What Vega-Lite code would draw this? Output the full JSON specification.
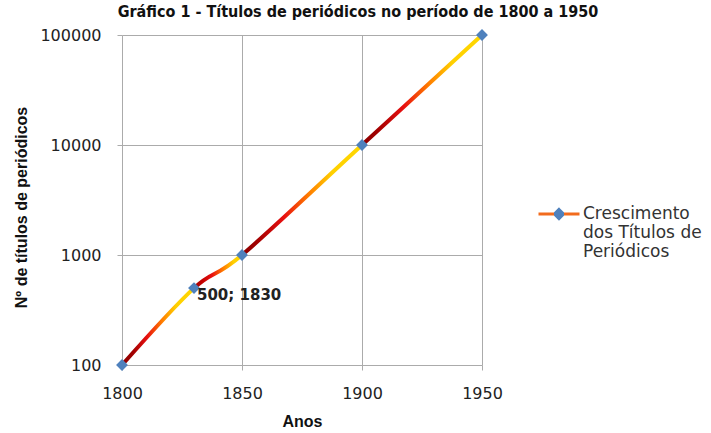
{
  "$schema": "https://vega.github.io/schema/vega-lite/v6.json",
  "width": 360,
  "height": 330,
  "padding": {"left": 13, "top": 4, "right": 0, "bottom": 0},
  "background": "white",
  "title": {
    "text": "Gráfico 1 - Títulos de periódicos no período de 1800 a 1950",
    "font": "DejaVu Sans Condensed, sans-serif",
    "fontSize": 16,
    "fontWeight": "bold",
    "color": "#111111",
    "anchor": "middle",
    "frame": "bounds",
    "offset": 7
  },
  "data": {
    "values": [
      {"year": 1800, "titles": 100, "serie": "Crescimento dos Títulos de Periódicos"},
      {"year": 1830, "titles": 500, "serie": "Crescimento dos Títulos de Periódicos", "label": "500; 1830"},
      {"year": 1850, "titles": 1000, "serie": "Crescimento dos Títulos de Periódicos"},
      {"year": 1900, "titles": 10000, "serie": "Crescimento dos Títulos de Periódicos"},
      {"year": 1950, "titles": 100000, "serie": "Crescimento dos Títulos de Periódicos"}
    ]
  },
  "encoding": {
    "x": {
      "field": "year",
      "type": "quantitative",
      "scale": {"domain": [1800, 1950], "nice": false, "zero": false},
      "axis": {
        "title": "Anos",
        "values": [1800, 1850, 1900, 1950],
        "format": "d",
        "labelFlush": false,
        "labelPadding": 15,
        "titlePadding": 12
      }
    },
    "y": {
      "field": "titles",
      "type": "quantitative",
      "scale": {"type": "log", "domain": [100, 100000], "nice": false},
      "axis": {
        "title": "Nº de títulos de periódicos",
        "values": [100, 1000, 10000, 100000],
        "format": "d",
        "labelFlush": false,
        "labelPadding": 16,
        "titlePadding": 10,
        "titleY": 172
      }
    }
  },
  "layer": [
    {
      "mark": {
        "type": "line",
        "interpolate": "cardinal",
        "strokeWidth": 4,
        "color": {
          "gradient": "linear",
          "x1": 0, "y1": 0, "x2": 1, "y2": 0,
          "stops": [
            {"offset": 0, "color": "#8B0000"},
            {"offset": 0.03, "color": "#A00000"},
            {"offset": 0.07, "color": "#E81010"},
            {"offset": 0.11, "color": "#FF7A00"},
            {"offset": 0.15, "color": "#FFD000"},
            {"offset": 0.2, "color": "#FFD700"},
            {"offset": 0.2, "color": "#A00000"},
            {"offset": 0.22, "color": "#C00000"},
            {"offset": 0.25, "color": "#E81010"},
            {"offset": 0.28, "color": "#FF7A00"},
            {"offset": 0.31, "color": "#FFD000"},
            {"offset": 0.3333, "color": "#FFD700"},
            {"offset": 0.3333, "color": "#8B0000"},
            {"offset": 0.373, "color": "#A00000"},
            {"offset": 0.45, "color": "#E81010"},
            {"offset": 0.517, "color": "#FF7A00"},
            {"offset": 0.583, "color": "#FFD000"},
            {"offset": 0.6667, "color": "#FFD700"},
            {"offset": 0.6667, "color": "#8B0000"},
            {"offset": 0.707, "color": "#A00000"},
            {"offset": 0.783, "color": "#E81010"},
            {"offset": 0.85, "color": "#FF7A00"},
            {"offset": 0.917, "color": "#FFD000"},
            {"offset": 1, "color": "#FFD700"}
          ]
        }
      }
    },
    {
      "mark": {"type": "point", "shape": "diamond", "filled": true, "size": 140, "opacity": 1},
      "encoding": {
        "color": {
          "field": "serie",
          "type": "nominal",
          "scale": {"range": ["#4F81BD"]},
          "legend": {
            "title": null,
            "orient": "none",
            "legendX": 415,
            "legendY": 157,
            "padding": 0,
            "symbolType": "M-1,0L-0.2,0M0.2,0L1,0M0,-0.22L0.22,0L0,0.22L-0.22,0Z",
            "symbolSize": 1681,
            "symbolStrokeWidth": 3,
            "symbolOpacity": 1,
            "labelOffset": 2,
            "labelFont": "DejaVu Sans",
            "labelFontSize": 17,
            "labelColor": "#333333",
            "labelLimit": 300,
            "labelExpr": "['Crescimento', 'dos Títulos de', 'Periódicos']",
            "encode": {
              "symbols": {
                "update": {
                  "fill": {"value": "#4F81BD"},
                  "stroke": {"value": {
                    "gradient": "linear",
                    "x1": 0, "y1": 0, "x2": 1, "y2": 0,
                    "stops": [
                      {"offset": 0, "color": "#F26B1D"},
                      {"offset": 0.39, "color": "#F26B1D"},
                      {"offset": 0.39, "color": "#4F81BD"},
                      {"offset": 0.61, "color": "#4F81BD"},
                      {"offset": 0.61, "color": "#F26B1D"},
                      {"offset": 1, "color": "#F26B1D"}
                    ]
                  }},
                  "strokeWidth": {"value": 3}
                }
              },
              "labels": {
                "update": {"lineHeight": {"value": 19}}
              }
            }
          }
        }
      }
    },
    {
      "transform": [{"filter": "datum.label != null"}],
      "mark": {
        "type": "text",
        "align": "left",
        "baseline": "middle",
        "dx": 3,
        "dy": 7,
        "font": "DejaVu Sans",
        "fontSize": 15,
        "fontWeight": "bold",
        "color": "#222222"
      },
      "encoding": {"text": {"field": "label"}}
    }
  ],
  "config": {
    "view": {"stroke": null},
    "axis": {
      "domain": false,
      "grid": true,
      "gridColor": "#ABABAB",
      "gridWidth": 1,
      "gridOpacity": 1,
      "tickColor": "#ABABAB",
      "tickSize": 5,
      "labelFont": "DejaVu Sans",
      "labelFontSize": 16,
      "labelColor": "#222222",
      "titleFont": "Liberation Sans",
      "titleFontSize": 16,
      "titleFontWeight": "bold",
      "titleColor": "#111111"
    }
  }
}
